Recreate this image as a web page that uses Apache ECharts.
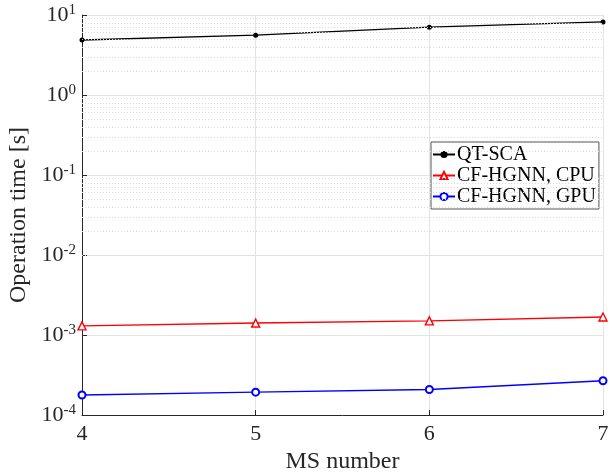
<!DOCTYPE html>
<html><head><meta charset="utf-8">
<script src="https://cdn.jsdelivr.net/npm/echarts@6/dist/echarts.min.js"></script>
<style>html,body{margin:0;padding:0;background:#fff}#c{width:612px;height:472px}</style>
</head><body><div id="c"></div>
<script>
const msNumbers = [4, 5, 6, 7];
const qtSca = [4.87, 5.6, 7.05, 8.2];
const cfCpu = [1.30e-3, 1.41e-3, 1.50e-3, 1.68e-3];
const cfGpu = [1.78e-4, 1.93e-4, 2.08e-4, 2.68e-4];
const seriesNames = ['QT-SCA', 'CF-HGNN, CPU', 'CF-HGNN, GPU'];

const FONT = 'Liberation Serif';
const AX = '#262626';
const minorVals = [];
for (let e = -4; e < 1; e++) for (let k = 2; k <= 9; k++) minorVals.push({yAxis: k * Math.pow(10, e)});

function pts(ys) { return msNumbers.map((x, i) => [x, ys[i]]); }

const chart = echarts.init(document.getElementById('c'), null, {renderer: 'canvas'});
chart.setOption({
  animation: false,
  backgroundColor: '#fff',
  grid: {left: 82, right: 9, top: 15, bottom: 57, containLabel: false, outerBoundsMode: 'none'},
  xAxis: {
    type: 'value', min: 4, max: 7, interval: 1,
    name: 'MS number', nameLocation: 'middle', nameGap: 33,
    nameTextStyle: {fontFamily: FONT, fontSize: 24, color: AX},
    axisLine: {show: true, onZero: false, lineStyle: {color: AX, width: 1}},
    axisTick: {show: true, inside: true, length: 5, lineStyle: {color: AX}},
    axisLabel: {fontFamily: FONT, fontSize: 22, color: AX, margin: 8},
    splitLine: {show: true, lineStyle: {color: '#e3e3e3', width: 1}}
  },
  yAxis: {
    type: 'log', logBase: 10, min: 1e-4, max: 10,
    name: 'Operation time [s]', nameLocation: 'middle', nameGap: 42,
    nameTextStyle: {fontFamily: FONT, fontSize: 24, color: AX},
    axisLine: {show: true, lineStyle: {color: AX, width: 1}},
    axisTick: {show: true, inside: true, length: 5, lineStyle: {color: AX}},
    axisLabel: {
      margin: 6,
      formatter: v => '{b|10}{s|' + Math.round(Math.log10(v)) + '}',
      rich: {
        b: {fontFamily: FONT, fontSize: 22, color: AX},
        s: {fontFamily: FONT, fontSize: 15, color: AX, verticalAlign: 'bottom', padding: [0, 0, 9, 0]}
      }
    },
    splitLine: {show: true, lineStyle: {color: '#e3e3e3', width: 1}}
  },
  legend: {
    orient: 'vertical', left: 431, top: 142,
    data: seriesNames,
    backgroundColor: '#fff', borderColor: '#555', borderWidth: 1,
    padding: [2, 3, 2, 1], itemGap: 0, itemWidth: 22, itemHeight: 9,
    textStyle: {fontFamily: FONT, fontSize: 20, color: '#000', lineHeight: 21, padding: [0, 0, 0, -3]}
  },
  series: [
    {name: seriesNames[0], type: 'line', data: pts(qtSca), symbol: 'circle', symbolSize: 5,
     itemStyle: {color: '#000'}, lineStyle: {color: '#000', width: 1.4},
     markLine: {silent: true, symbol: 'none', label: {show: false}, animation: false,
       lineStyle: {color: '#d9d9d9', type: [1, 2], width: 1}, emphasis: {disabled: true}, data: minorVals}, z: 3},
    {name: seriesNames[1], type: 'line', data: pts(cfCpu), symbol: 'triangle', symbolSize: 8,
     itemStyle: {color: '#fff', borderColor: '#ff0000', borderWidth: 1.4}, lineStyle: {color: '#ff0000', width: 1.4}, z: 3},
    {name: seriesNames[2], type: 'line', data: pts(cfGpu), symbol: 'emptyCircle', symbolSize: 7,
     itemStyle: {color: '#0000ff', borderColor: '#0000ff', borderWidth: 1.4}, lineStyle: {color: '#0000ff', width: 1.4}, z: 3}
  ]
});
</script></body></html>
